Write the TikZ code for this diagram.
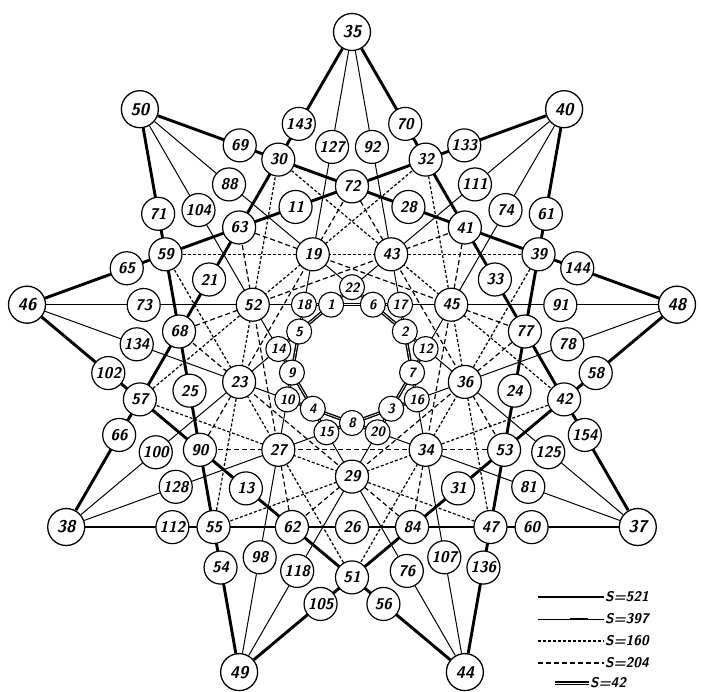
\documentclass[tikz,border=0pt]{standalone}
\usetikzlibrary{backgrounds}
\tikzset{
  tip/.style={circle, draw, line width=1.3pt, fill=white, minimum size=37pt,
    inner sep=0pt, font=\sffamily\bfseries\slshape\fontsize{17}{17}\selectfont},
  vert/.style={circle, draw, line width=1.2pt, fill=white, minimum size=33pt,
    inner sep=0pt, font=\sffamily\bfseries\slshape\fontsize{15.5}{15.5}\selectfont},
  core/.style={circle, draw, line width=1.1pt, fill=white, minimum size=25pt,
    inner sep=0pt, font=\sffamily\bfseries\slshape\fontsize{13.5}{13.5}\selectfont},
  heavyline/.style={line width=2.9pt},
  thinline/.style={line width=1pt},
  fineline/.style={line width=1.2pt, dash pattern=on 3pt off 2pt},
  dashline/.style={line width=1.2pt, dash pattern=on 5pt off 3pt},
  twinline/.style={line width=1.4pt, double=white, double distance=0.6pt},
  key/.style={font=\sffamily\bfseries\slshape\fontsize{14}{14}\selectfont, anchor=west, inner sep=1pt}
}

\begin{document}
\begin{tikzpicture}[x=1pt,y=1pt]
\useasboundingbox (-352,-329) rectangle (349,362);

% Star tips
\node[tip] (n35) at (90:330) {35};
\node[tip] (n40) at (50:330) {40};
\node[tip] (n48) at (10:330) {48};
\node[tip] (n37) at (-30:330) {37};
\node[tip] (n44) at (-70:330) {44};
\node[tip] (n49) at (-110:330) {49};
\node[tip] (n38) at (-150:330) {38};
\node[tip] (n46) at (170:330) {46};
\node[tip] (n50) at (130:330) {50};

% Outer pairs on the heavy lines
\node[vert] (n143) at (102.6:244) {143};
\node[vert] (n70) at (77.4:244) {70};
\node[vert] (n133) at (62.6:244) {133};
\node[vert] (n61) at (37.4:244) {61};
\node[vert] (n144) at (22.6:244) {144};
\node[vert] (n58) at (-2.6:244) {58};
\node[vert] (n154) at (-17.4:244) {154};
\node[vert] (n60) at (-42.6:244) {60};
\node[vert] (n136) at (-57.4:244) {136};
\node[vert] (n56) at (-82.6:244) {56};
\node[vert] (n105) at (-97.4:244) {105};
\node[vert] (n54) at (-122.6:244) {54};
\node[vert] (n112) at (-137.4:244) {112};
\node[vert] (n66) at (-162.6:244) {66};
\node[vert] (n102) at (-177.4:244) {102};
\node[vert] (n65) at (157.4:244) {65};
\node[vert] (n71) at (142.6:244) {71};
\node[vert] (n69) at (117.4:244) {69};

% Outer pairs on the light lines
\node[vert] (n127) at (95.3:216) {127};
\node[vert] (n92) at (84.7:216) {92};
\node[vert] (n111) at (55.3:216) {111};
\node[vert] (n74) at (44.7:216) {74};
\node[vert] (n91) at (15.3:216) {91};
\node[vert] (n78) at (4.7:216) {78};
\node[vert] (n125) at (-24.7:216) {125};
\node[vert] (n81) at (-35.3:216) {81};
\node[vert] (n107) at (-64.7:216) {107};
\node[vert] (n76) at (-75.3:216) {76};
\node[vert] (n118) at (-104.7:216) {118};
\node[vert] (n98) at (-115.3:216) {98};
\node[vert] (n128) at (-144.7:216) {128};
\node[vert] (n100) at (-155.3:216) {100};
\node[vert] (n134) at (175.3:216) {134};
\node[vert] (n73) at (164.7:216) {73};
\node[vert] (n104) at (135.3:216) {104};
\node[vert] (n88) at (124.7:216) {88};

% Outer ring between the tips
\node[vert] (n32) at (70:215.4) {32};
\node[vert] (n39) at (30:215.4) {39};
\node[vert] (n42) at (-10:215.4) {42};
\node[vert] (n47) at (-50:215.4) {47};
\node[vert] (n51) at (-90:215.4) {51};
\node[vert] (n55) at (-130:215.4) {55};
\node[vert] (n57) at (-170:215.4) {57};
\node[vert] (n59) at (150:215.4) {59};
\node[vert] (n30) at (110:215.4) {30};

% Crossing points of the heavy lines
\node[vert] (n72) at (90:175.6) {72};
\node[vert] (n41) at (50:175.6) {41};
\node[vert] (n77) at (10:175.6) {77};
\node[vert] (n53) at (-30:175.6) {53};
\node[vert] (n84) at (-70:175.6) {84};
\node[vert] (n62) at (-110:175.6) {62};
\node[vert] (n90) at (-150:175.6) {90};
\node[vert] (n68) at (170:175.6) {68};
\node[vert] (n63) at (130:175.6) {63};

\node[vert] (n28) at (70:165) {28};
\node[vert] (n33) at (30:165) {33};
\node[vert] (n24) at (-10:165) {24};
\node[vert] (n31) at (-50:165) {31};
\node[vert] (n26) at (-90:165) {26};
\node[vert] (n13) at (-130:165) {13};
\node[vert] (n25) at (-170:165) {25};
\node[vert] (n21) at (150:165) {21};
\node[vert] (n11) at (110:165) {11};

% Hubs of the dashed lines
\node[vert] (n43) at (70:114.6) {43};
\node[vert] (n45) at (30:114.6) {45};
\node[vert] (n36) at (-10:114.6) {36};
\node[vert] (n34) at (-50:114.6) {34};
\node[vert] (n29) at (-90:114.6) {29};
\node[vert] (n27) at (-130:114.6) {27};
\node[vert] (n23) at (-170:114.6) {23};
\node[vert] (n52) at (150:114.6) {52};
\node[vert] (n19) at (110:114.6) {19};

% Inner rings
\node[core] (n22) at (90:74.8) {22};
\node[core] (n17) at (50:74.8) {17};
\node[core] (n12) at (10:74.8) {12};
\node[core] (n16) at (-30:74.8) {16};
\node[core] (n20) at (-70:74.8) {20};
\node[core] (n15) at (-110:74.8) {15};
\node[core] (n10) at (-150:74.8) {10};
\node[core] (n14) at (170:74.8) {14};
\node[core] (n18) at (130:74.8) {18};

\node[core] (n6) at (70:61) {6};
\node[core] (n2) at (30:61) {2};
\node[core] (n7) at (-10:61) {7};
\node[core] (n3) at (-50:61) {3};
\node[core] (n8) at (-90:61) {8};
\node[core] (n4) at (-130:61) {4};
\node[core] (n9) at (-170:61) {9};
\node[core] (n5) at (150:61) {5};
\node[core] (n1) at (110:61) {1};

\begin{scope}[on background layer]
% S=521 lines
\draw[heavyline] (n35) -- (n37);
\draw[heavyline] (n40) -- (n44);
\draw[heavyline] (n48) -- (n49);
\draw[heavyline] (n37) -- (n38);
\draw[heavyline] (n44) -- (n46);
\draw[heavyline] (n49) -- (n50);
\draw[heavyline] (n38) -- (n35);
\draw[heavyline] (n46) -- (n40);
\draw[heavyline] (n50) -- (n48);

% S=397 lines
\draw[thinline] (n46) -- (n48);
\draw[thinline] (n50) -- (n37);
\draw[thinline] (n35) -- (n44);
\draw[thinline] (n40) -- (n49);
\draw[thinline] (n48) -- (n38);
\draw[thinline] (n37) -- (n46);
\draw[thinline] (n44) -- (n50);
\draw[thinline] (n49) -- (n35);
\draw[thinline] (n38) -- (n40);

% S=160 lines
\draw[fineline] (n59) -- (n39);
\draw[fineline] (n30) -- (n42);
\draw[fineline] (n32) -- (n47);
\draw[fineline] (n39) -- (n51);
\draw[fineline] (n42) -- (n55);
\draw[fineline] (n47) -- (n57);
\draw[fineline] (n51) -- (n59);
\draw[fineline] (n55) -- (n30);
\draw[fineline] (n57) -- (n32);

% S=204 lines
\draw[dashline] (n63) -- (n77);
\draw[dashline] (n72) -- (n53);
\draw[dashline] (n41) -- (n84);
\draw[dashline] (n77) -- (n62);
\draw[dashline] (n53) -- (n90);
\draw[dashline] (n84) -- (n68);
\draw[dashline] (n62) -- (n63);
\draw[dashline] (n90) -- (n72);
\draw[dashline] (n68) -- (n41);

% S=42 lines
\draw[twinline] (n18) -- (n17);
\draw[twinline] (n22) -- (n12);
\draw[twinline] (n17) -- (n16);
\draw[twinline] (n12) -- (n20);
\draw[twinline] (n16) -- (n15);
\draw[twinline] (n20) -- (n10);
\draw[twinline] (n15) -- (n14);
\draw[twinline] (n10) -- (n18);
\draw[twinline] (n14) -- (n22);
\end{scope}

% Legend
\coordinate (s521) at (186,-235);
\node[key] (k521) at (252,-235) {S=521};
\draw[heavyline] (s521) -- (k521.west);
\coordinate (s397) at (186,-257);
\coordinate (m397a) at (218,-257);
\coordinate (m397b) at (236,-257);
\node[key] (k397) at (252,-257) {S=397};
\draw[thinline] (s397) -- (k397.west);
\draw[line width=2pt] (m397a) -- (m397b);
\coordinate (s160) at (186,-279);
\node[key] (k160) at (252,-279) {S=160};
\draw[fineline] (s160) -- (k160.west);
\coordinate (s204) at (186,-301);
\node[key] (k204) at (252,-301) {S=204};
\draw[dashline] (s204) -- (k204.west);
\coordinate (s42) at (203,-321);
\node[key] (k42) at (237,-321) {S=42};
\draw[twinline] (s42) -- (k42.west);

\end{tikzpicture}
\end{document}
